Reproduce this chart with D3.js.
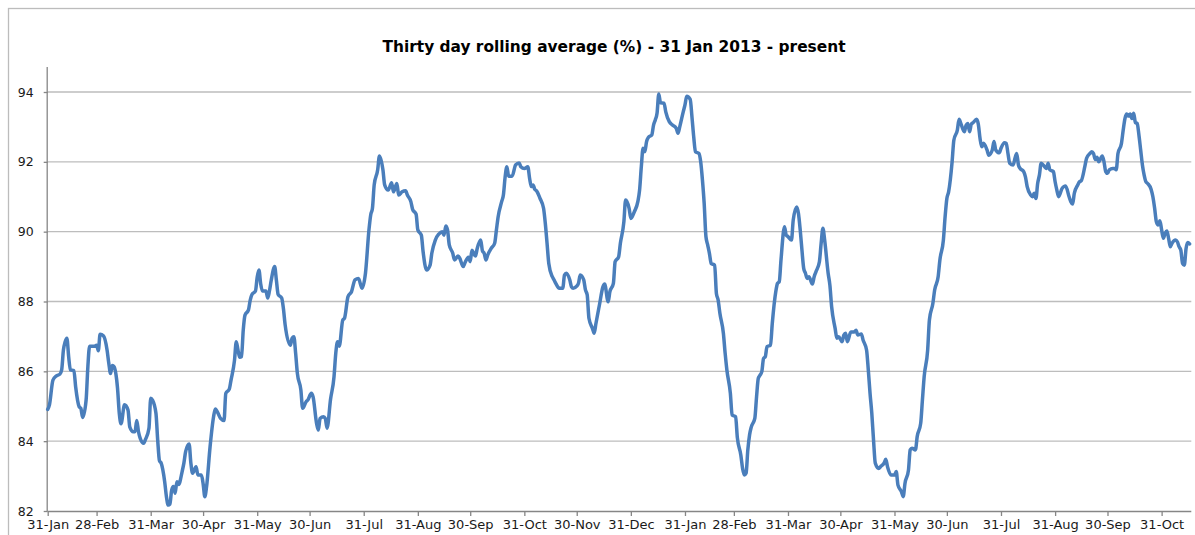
<!DOCTYPE html>
<html>
<head>
<meta charset="utf-8">
<script src="https://cdn.jsdelivr.net/npm/d3@7"></script>
<style>
  html, body { margin: 0; padding: 0; background: #ffffff; }
  svg { display: block; }
</style>
</head>
<body>
<svg id="chart" width="1195" height="535"></svg>
<script>
// ---- data ----
const title = "Thirty day rolling average (%) - 31 Jan 2013 - present";
const startDate = "2013-01-31";
// days after 31 Jan 2013
const dayOffsets = [
  0,1,3,5,7,8,9,10,11,12,13,15,16,18,19,20,22,23,24,27,28,29,30,32,34,35,36,37,38,40,41,42,44,46,47,49,50,51,52,53,55,56,58,59,60,62,63,64,65,67,68,69,70,71,72,73,74,75,77,78,79,81,82,83,85,86,88,89,90,91,93,95,96,98,99,101,102,104,105,107,108,109,110,111,112,113,115,116,
  117,119,120,121,122,123,125,126,127,128,130,131,132,134,135,136,139,140,141,142,143,145,146,148,149,151,152,154,155,156,158,159,160,162,164,165,166,167,169,170,172,174,176,178,180,182,184,185,186,187,189,190,192,193,195,197,198,200,201,203,205,206,208,209,211,212,214,215,217,219,220,222,224,226,227,228,229,230,232,233,235,236,238,239,241,242,243,244,245,246,248,249,250,251,252,254,256,257,258,260,261,262,263,264,266,268,270,271,273,275,276,277,278,279,280,282,284,285,286,287,289,290,291,293,295,296,297,299,300,301,303,304,305,307,308,309,310,312,313,314,316,318,319,321,322,324,325,327,328,330,331,333,334,336,338,339,340,341,342,343,344,346,347,348,349,350,351,353,354,356,358,360,361,362,364,365,366,368,369,370,371,373,374,375,376,377,378,379,380,382,383,384,385,387,388,389,391,392,394,395,397,398,399,400,401,402,403,405,406,407,408,409,410,411,412,414,415,417,418,419,420,422,423,424,426,427,429,430,431,432,433,434,435,436,438,439,440,442,443,444,445,447,448,449,451,452,453,455,456,457,458,460,462,463,464,466,467,469,470,471,472,473,474,476,477,479,480,481,483,485,486,487,489,490,491,493,494,495,497,498,500,501,502,504,505,507,508,510,511,513,514,515,516,518,519,521,522,523,525,526,527,528,529,530,532,533,534,535,536,538,539,541,542,543,545,546,548,549,550,551,553,554,555,556,557,559,560,561,563,564,565,566,567,568,569,571,572,573,574,576,577,578,579,581,582,583,585,586,587,588,590,591,592,594,595,597,598,599,600,601,602,604,605,606,607,608,610,611,612,613,615,616,617,618,619,620,621,622,623,624,625,626,627,628,629,630,632,633,634,635,636,637,638,639,640,641,642,643,644,646,647,648,649,650,651,652,653,654
];
// thirty day rolling average (%)
const values = [
  84.91,85.04,85.75,85.87,85.92,86.04,86.61,86.85,86.95,86.42,86.04,86.02,85.56,84.99,84.94,84.68,85.18,86.13,86.72,86.72,86.75,86.59,87.06,87.01,86.61,86.23,85.94,86.17,86.13,85.51,84.80,84.50,85.04,84.89,84.41,84.27,84.27,84.59,84.27,84.08,83.94,84.05,84.37,85.23,85.18,84.80,84.03,83.44,83.37,82.84,82.41,82.17,82.20,82.60,82.70,82.51,82.84,82.76,83.13,83.37,83.70,83.92,83.37,83.08,83.27,83.03,83.03,82.79,82.41,82.70,83.84,84.70,84.92,84.75,84.65,84.59,85.37,85.49,85.75,86.32,86.85,86.61,86.40,86.42,87.18,87.61,87.76,88.04,
  88.20,88.30,88.70,88.90,88.50,88.30,88.30,88.10,88.30,88.60,89.00,88.60,88.20,88.10,87.80,87.33,86.75,86.95,86.99,86.52,85.94,85.47,84.94,85.13,85.18,85.37,85.27,84.51,84.32,84.65,84.70,84.65,84.37,85.20,85.85,86.52,86.85,86.72,87.47,87.52,88.14,88.28,88.62,88.66,88.38,88.81,90.05,90.48,90.67,91.34,91.77,92.17,91.77,91.34,91.19,91.40,91.14,91.38,91.05,91.14,91.17,91.05,90.86,90.64,90.50,90.05,89.90,89.43,88.90,89.04,89.38,89.76,89.93,90.00,89.90,90.16,90.05,89.62,89.38,89.19,89.30,89.24,89.00,89.11,89.27,89.14,89.47,89.38,89.30,89.52,89.76,89.45,89.38,89.19,89.33,89.52,89.67,90.05,90.43,90.86,91.05,91.57,91.86,91.59,91.59,91.91,91.97,91.86,91.81,91.86,91.53,91.29,91.34,91.21,91.17,90.95,90.67,90.24,89.67,89.09,88.71,88.62,88.52,88.38,88.38,88.76,88.81,88.62,88.42,88.38,88.44,88.52,88.76,88.62,88.33,88.19,87.52,87.23,87.09,87.37,87.90,88.42,88.50,87.99,88.28,88.52,89.14,89.28,89.67,90.28,90.91,90.67,90.38,90.57,90.86,91.19,91.86,92.39,92.29,92.58,92.70,92.77,93.05,93.20,93.39,93.94,93.69,93.68,93.43,93.15,93.05,92.96,92.82,93.00,93.43,93.63,93.88,93.79,93.29,92.72,92.29,92.24,92.00,91.48,90.81,89.86,89.62,89.38,89.09,89.04,88.23,88.04,87.66,87.09,86.52,86.04,85.37,84.75,84.70,84.10,83.60,83.22,83.03,83.08,83.75,84.18,84.41,84.65,85.27,85.80,85.89,85.99,86.37,86.42,86.71,86.75,87.37,88.28,88.52,88.57,89.19,90.14,89.90,89.86,89.76,90.33,90.71,90.52,90.05,89.47,88.95,88.81,88.66,88.71,88.50,88.71,88.85,89.14,89.67,90.10,89.76,88.81,88.47,87.85,87.23,86.95,86.99,86.85,87.04,87.09,86.85,87.13,87.13,87.18,87.04,87.07,86.90,86.61,86.04,85.37,84.80,84.03,83.37,83.22,83.27,83.37,83.48,83.27,83.03,83.03,83.13,82.74,82.55,82.41,82.79,83.17,83.75,83.80,83.75,84.13,84.51,85.18,85.85,86.61,87.47,87.95,88.33,88.71,89.19,89.76,90.43,90.95,91.14,92.00,92.62,92.91,93.22,93.10,92.86,93.05,93.10,92.86,93.08,93.12,93.22,93.08,92.67,92.43,92.53,92.34,92.19,92.34,92.58,92.34,92.26,92.39,92.55,92.53,92.24,91.96,91.91,92.10,92.24,91.91,91.81,91.72,91.57,91.29,91.05,91.00,91.10,90.95,91.38,91.62,91.96,91.86,91.81,91.96,91.77,91.72,91.43,91.19,91.00,91.24,91.29,91.31,91.00,90.86,90.79,91.10,91.34,91.43,91.46,91.86,92.10,92.24,92.29,92.24,92.07,92.13,92.00,92.17,92.00,91.72,91.67,91.77,91.81,91.81,91.77,92.24,92.53,92.91,93.24,93.37,93.31,93.37,93.24,93.39,93.12,93.10,92.77,92.34,91.91,91.62,91.43,91.38,91.21,91.00,90.67,90.28,90.19,90.31,90.05,89.81,89.95,90.02,89.81,89.57,89.67,89.76,89.71,89.57,89.47,89.09,89.04,89.52,89.69,89.65
];
const yTickValues = [82, 84, 86, 88, 90, 92, 94];
const xTickDates = [
  "2013-01-31","2013-02-28","2013-03-31","2013-04-30","2013-05-31","2013-06-30","2013-07-31",
  "2013-08-31","2013-09-30","2013-10-31","2013-11-30","2013-12-31","2014-01-31","2014-02-28",
  "2014-03-31","2014-04-30","2014-05-31","2014-06-30","2014-07-31","2014-08-31","2014-09-30","2014-10-31"
];

// ---- build ----
const DAY = 86400000;
const t0 = new Date(startDate + "T00:00:00Z").getTime();
const series = dayOffsets.map((d, i) => ({ date: new Date(t0 + d * DAY), value: values[i] }));

const svg = d3.select("#chart");
const W = 1195, H = 535;
const plot = { left: 47.7, right: 1191.3, top: 67, bottom: 511 };

svg.append("rect").attr("x", 8.5).attr("y", 8.5).attr("width", W + 20).attr("height", H + 20)
  .attr("fill", "#ffffff").attr("stroke", "#bcbcbc").attr("stroke-width", 1.3);

const x = d3.scaleUtc()
  .domain([new Date(t0), new Date(t0 + 655 * DAY)])
  .range([plot.left, plot.right]);
const y = d3.scaleLinear().domain([82, 94.716]).range([plot.bottom, plot.top]);

const font = "'DejaVu Sans', Verdana, sans-serif";

// gridlines
svg.append("g").selectAll("line").data(yTickValues.filter(v => v > 82)).join("line")
  .attr("x1", plot.left).attr("x2", plot.right)
  .attr("y1", d => y(d)).attr("y2", d => y(d))
  .attr("stroke", "#bdbdbd").attr("stroke-width", 1.3);

// y axis
const yAxis = d3.axisLeft(y).tickValues(yTickValues).tickSize(4).tickPadding(10).tickFormat(d3.format("d"));
const gy = svg.append("g").attr("transform", `translate(${plot.left},0)`).call(yAxis);
gy.select(".domain").attr("stroke", "#868686").attr("stroke-width", 1.3).attr("d", `M-0.5,${plot.bottom}V${plot.top}`);
gy.selectAll(".tick line").attr("stroke", "#868686").attr("stroke-width", 1.3);
gy.selectAll(".tick text").attr("font-family", font).attr("font-size", 12.5).attr("fill", "#1a1a1a");

// x axis
const fmt = d3.utcFormat("%d-%b");
const xAxis = d3.axisBottom(x)
  .tickValues(xTickDates.map(s => new Date(s + "T00:00:00Z")))
  .tickSize(5).tickPadding(4).tickFormat(fmt);
const gx = svg.append("g").attr("transform", `translate(0,${plot.bottom})`).call(xAxis);
gx.select(".domain").attr("stroke", "#868686").attr("stroke-width", 1.3).attr("d", `M${plot.left},0.5H${plot.right}`);
gx.selectAll(".tick line").attr("stroke", "#868686").attr("stroke-width", 1.3);
gx.selectAll(".tick text").attr("font-family", font).attr("font-size", 13).attr("fill", "#1a1a1a");

// line
const line = d3.line().x(d => x(d.date)).y(d => y(d.value)).curve(d3.curveMonotoneX);
svg.append("path").datum(series)
  .attr("fill", "none").attr("stroke", "#4a7ebb").attr("stroke-width", 3.5)
  .attr("stroke-linejoin", "round").attr("stroke-linecap", "round")
  .attr("d", line);

// title
svg.append("text").attr("x", 614).attr("y", 52).attr("text-anchor", "middle")
  .attr("font-family", font).attr("font-weight", "bold").attr("font-size", 15.4)
  .attr("fill", "#000").text(title);
</script>
</body>
</html>
